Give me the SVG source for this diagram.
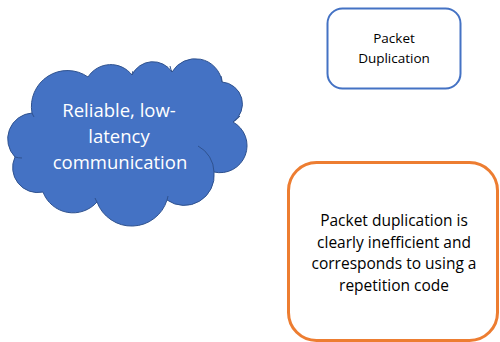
<svg xmlns="http://www.w3.org/2000/svg" width="500" height="342" viewBox="0 0 500 342">
<style>
.t{font-family:"Open Sans","Noto Sans","Liberation Sans",sans-serif;text-anchor:middle}
.box{fill:#fff}
</style>
<rect width="500" height="342" fill="#fff"/>
<g id="cloud">
<path d="M32,113 A26,26 0 0 0 15,157 A25,25 0 0 0 43,192 A32,32 0 0 0 97,202 A37,37 0 0 0 167,200 A30,30 0 0 0 214,172 A27,27 0 0 0 233,122 A22,22 0 0 0 222,82 A27,27 0 0 0 172,72 A23,23 0 0 0 132,75 A27,27 0 0 0 88,77 A36,36 0 0 0 32,113 Z" fill="#4472C4" stroke="#2F528F" stroke-width="1"/>
<g fill="none" stroke="#2F528F" stroke-width="1">
<path d="M198,146 A30,30 0 0 1 214,172"/>
<path d="M233,122 A22,22 0 0 0 240,116"/>
<path d="M222,82 A20,20 0 0 0 221,76"/>
<path d="M172,72 A25,25 0 0 1 170,66"/>
<path d="M132,75 A22,22 0 0 1 133,71"/>
<path d="M32,113 A36,36 0 0 0 34,117"/>
<path d="M15,157 A25,25 0 0 0 22,158"/>
<path d="M97,202 A32,32 0 0 1 95,198"/>
<path d="M167,200 A37,37 0 0 0 168,196"/>
</g>
<text class="t" x="119" y="117" font-size="18.5" fill="#fff">Reliable, low-</text>
<text class="t" x="119" y="143" font-size="18.5" fill="#fff">latency</text>
<text class="t" x="120" y="169" font-size="18.5" fill="#fff">communication</text>
</g>
<g id="packet-duplication">
<rect class="box" x="327.5" y="8.5" width="133" height="80" rx="15" stroke="#4472C4" stroke-width="2"/>
<text class="t" x="394" y="43" font-size="13.5" fill="#000">Packet</text>
<text class="t" x="394" y="63" font-size="13.5" fill="#000">Duplication</text>
</g>
<g id="note">
<rect class="box" x="288.5" y="162.5" width="209" height="178" rx="28" stroke="#ED7D31" stroke-width="3"/>
<text class="t" x="394" y="226" font-size="15.5" fill="#000">Packet duplication is</text>
<text class="t" x="394" y="247.5" font-size="15.5" fill="#000">clearly inefficient and</text>
<text class="t" x="394" y="269" font-size="15.5" fill="#000">corresponds to using a</text>
<text class="t" x="394" y="290.5" font-size="15.5" fill="#000">repetition code</text>
</g>
<g id="connectors"/>
</svg>
